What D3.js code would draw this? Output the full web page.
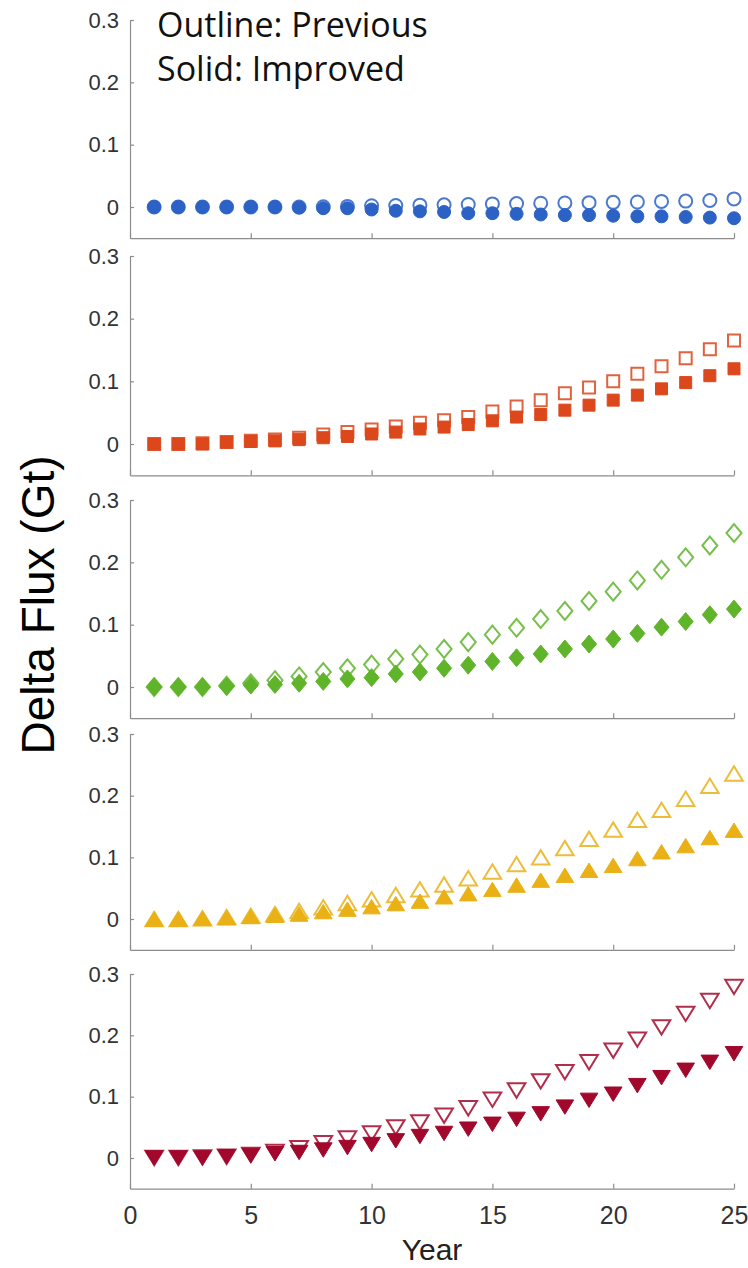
<!DOCTYPE html>
<html><head><meta charset="utf-8">
<script src="https://cdn.jsdelivr.net/npm/d3@7"></script>
<style>body{margin:0;background:#fff}svg{display:block}</style>
</head><body>
<svg id="chart" width="748" height="1268"></svg>
<script>
// ---------- data ----------
const years = [1,2,3,4,5,6,7,8,9,10,11,12,13,14,15,16,17,18,19,20,21,22,23,24,25];
const xTicks = [0,5,10,15,20,25];
const yTicks = [0,0.1,0.2,0.3];
const yTickLabels = ["0","0.1","0.2","0.3"];

const bluePrevious = [0,0,0,0,0,0,0,0.0005,0.001,0.002,0.0025,0.003,0.0035,0.004,0.005,0.0055,0.006,0.0065,0.007,0.0075,0.008,0.009,0.0095,0.0105,0.013];
const blueImproved = [0,0,0,0,0,0,-0.001,-0.002,-0.002,-0.004,-0.006,-0.007,-0.008,-0.010,-0.010,-0.011,-0.012,-0.013,-0.013,-0.014,-0.015,-0.015,-0.016,-0.017,-0.018];

const redPrevious = [0,0,0.001,0.003,0.005,0.007,0.010,0.015,0.019,0.023,0.028,0.034,0.038,0.043,0.052,0.060,0.070,0.081,0.090,0.100,0.112,0.124,0.137,0.151,0.165];
const redImproved = [0,0,0,0.003,0.004,0.005,0.007,0.010,0.012,0.016,0.019,0.024,0.027,0.031,0.037,0.043,0.047,0.054,0.062,0.070,0.078,0.088,0.098,0.109,0.120];

const greenPrevious = [0,0,0,0.002,0.006,0.011,0.017,0.024,0.030,0.036,0.045,0.052,0.061,0.072,0.084,0.095,0.109,0.122,0.138,0.153,0.171,0.188,0.208,0.227,0.247];
const greenImproved = [0,0,0,0.001,0.003,0.004,0.006,0.009,0.013,0.015,0.021,0.024,0.030,0.035,0.041,0.047,0.053,0.061,0.069,0.077,0.086,0.096,0.105,0.116,0.125];

const yellowPrevious = [0,0,0.001,0.003,0.005,0.008,0.013,0.019,0.026,0.032,0.039,0.048,0.056,0.066,0.077,0.089,0.100,0.115,0.130,0.145,0.161,0.177,0.195,0.216,0.236];
const yellowImproved = [0,0,0.001,0.002,0.004,0.006,0.008,0.012,0.016,0.020,0.025,0.029,0.036,0.041,0.048,0.055,0.063,0.071,0.079,0.087,0.098,0.109,0.119,0.132,0.144];

const crimsonPrevious = [0,0,0.001,0.002,0.005,0.010,0.016,0.024,0.032,0.040,0.050,0.058,0.069,0.081,0.095,0.110,0.125,0.140,0.156,0.175,0.193,0.213,0.235,0.256,0.279];
const crimsonImproved = [0,0,0,0.002,0.004,0.007,0.009,0.013,0.017,0.022,0.028,0.035,0.040,0.047,0.055,0.063,0.072,0.083,0.094,0.104,0.118,0.131,0.143,0.156,0.170];

const legendLines = ["Outline: Previous", "Solid: Improved"];
const yLabel = "Delta Flux (Gt)";
const xLabel = "Year";

// ---------- marker shapes ----------
const shapes = {
  circle: {draw(c, s){ const r = s/2; c.moveTo(r,0); c.arc(0,0,r,0,2*Math.PI); }},
  square: {draw(c, s){ const h = s/2; c.rect(-h,-h,s,s); }},
  diamond:{draw(c, s){ const w = s*0.47, h = s*0.56; c.moveTo(0,-h); c.lineTo(w,0); c.lineTo(0,h); c.lineTo(-w,0); c.closePath(); }},
  up:     {draw(c, s){ const w = s*0.55, h = s*0.45; c.moveTo(0,-h); c.lineTo(w,h); c.lineTo(-w,h); c.closePath(); }},
  down:   {draw(c, s){ const w = s*0.55, h = s*0.45; c.moveTo(0,h); c.lineTo(w,-h); c.lineTo(-w,-h); c.closePath(); }}
};

const panels = [
  {prev: bluePrevious,    impr: blueImproved,    color: "#2c62c6", shape: "circle",  size: 13, top: 20,  zero: 207},
  {prev: redPrevious,     impr: redImproved,     color: "#dc481c", shape: "square",  size: 12, top: 256, zero: 444},
  {prev: greenPrevious,   impr: greenImproved,   color: "#5fb42a", shape: "diamond", size: 16, top: 500, zero: 687},
  {prev: yellowPrevious,  impr: yellowImproved,  color: "#e9b116", shape: "up",      size: 16, top: 734, zero: 919},
  {prev: crimsonPrevious, impr: crimsonImproved, color: "#a2082c", shape: "down",    size: 16, top: 974, zero: 1158}
];

const svg = d3.select("#chart");
const x = d3.scaleLinear().domain([0,25]).range([130,734]);
const axisColor = "#8c8c8c";
const tickFont = "'Liberation Sans', Arial, sans-serif";

panels.forEach((p, i) => {
  const bottom = p.zero + (p.zero - p.top) / 6;
  const y = d3.scaleLinear().domain([-0.05, 0.3]).range([bottom, p.top]);
  const g = svg.append("g");

  const ya = g.append("g").attr("transform", `translate(${x(0)},0)`)
    .call(d3.axisLeft(y).tickValues(yTicks).tickFormat((d,k)=>yTickLabels[k]).tickSize(-4).tickSizeOuter(0).tickPadding(11));
  const xa = g.append("g").attr("transform", `translate(0,${bottom})`)
    .call(d3.axisBottom(x).tickValues(xTicks).tickSize(-5).tickSizeOuter(0).tickPadding(18)
      .tickFormat(i === panels.length - 1 ? d3.format("d") : () => ""));
  [ya, xa].forEach(a => {
    a.select(".domain").attr("stroke", axisColor).attr("stroke-width", 1.2);
    a.selectAll(".tick line").attr("stroke", axisColor).attr("stroke-width", 1.2);
    a.selectAll(".tick text").attr("fill", "#333").style("font-family", tickFont);
  });
  ya.selectAll(".tick text").style("font-size", "22px");
  xa.selectAll(".tick text").style("font-size", "25px");

  const sym = d3.symbol().type(shapes[p.shape]).size(p.size);
  g.append("g").selectAll("path").data(p.prev).join("path")
    .attr("d", sym)
    .attr("transform", (d,k) => `translate(${x(years[k])},${y(d)})`)
    .attr("fill", "none").attr("stroke", p.color).attr("stroke-width", 2).attr("opacity", 0.85);
  g.append("g").selectAll("path").data(p.impr).join("path")
    .attr("d", sym)
    .attr("transform", (d,k) => `translate(${x(years[k])},${y(d)})`)
    .attr("fill", p.color).attr("stroke", p.color).attr("stroke-width", 1);
});

// legend text
svg.append("g").selectAll("text").data(legendLines).join("text")
  .attr("x", 157).attr("y", (d,k) => 37 + k*44)
  .style("font-family", "'Open Sans', sans-serif").style("font-size", "34px").attr("fill", "#111")
  .text(d => d);

// axis labels
svg.append("text")
  .attr("transform", "translate(54,605) rotate(-90)")
  .attr("text-anchor", "middle")
  .style("font-family", "'Liberation Sans', Arial, sans-serif").style("font-size", "46px").attr("fill", "#000")
  .text(yLabel);
svg.append("text")
  .attr("x", 432).attr("y", 1260).attr("text-anchor", "middle")
  .style("font-family", "'Liberation Sans', Arial, sans-serif").style("font-size", "30px").attr("fill", "#222")
  .text(xLabel);
</script>
</body></html>
